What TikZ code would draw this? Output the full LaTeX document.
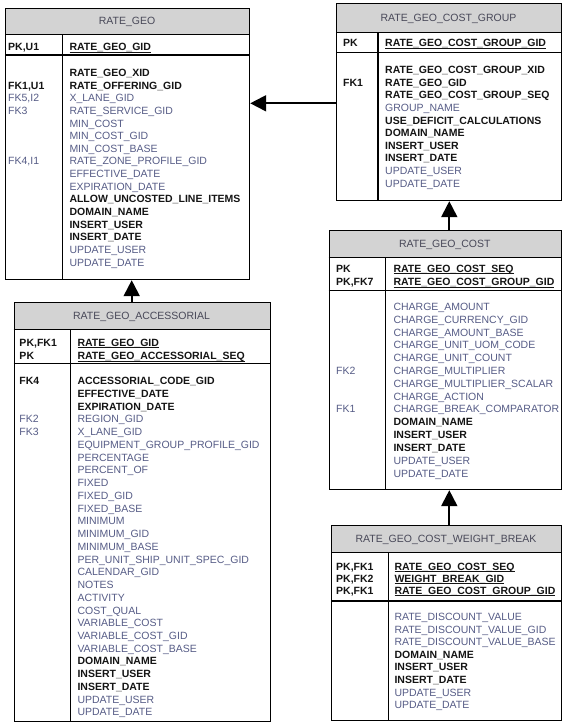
\documentclass[tikz,border=0pt]{standalone}
\usepackage{fontspec}
\setmainfont{Liberation Sans}
\usetikzlibrary{arrows.meta}
\definecolor{regc}{RGB}{86,92,134}
\definecolor{blkc}{RGB}{20,20,20}
\definecolor{ttlc}{RGB}{72,72,88}
\definecolor{ttlfill}{RGB}{211,211,211}
\newcommand\regtxt[1]{{\color{regc}#1}}
\newcommand\boldtxt[1]{{\color{blkc}\bfseries #1}}
\newcommand\pktxt[1]{{\color{blkc}\bfseries\setbox0\hbox{#1}\rlap{\rule[-2.4pt]{\wd0}{1.1pt}}\box0}}
\tikzset{
  txt/.style={anchor=base west, inner sep=0pt, font=\fontsize{10.5}{12}\selectfont},
  ttl/.style={anchor=base, inner sep=0pt, font=\fontsize{10.5}{12}\selectfont, text=ttlc},
  tblbox/.style={draw=black, line width=1.2pt, inner sep=0pt, fill=none},
  sepline/.style={draw=black, line width=1.2pt},
  conn/.style={line width=2pt, -{Triangle[length=16pt,width=16pt]}},
}
\newcommand\tabrows[5]{\foreach \t [count=\i from 0] in {#5} {\node[txt] (#1-\i) at ({#2},{#3+\i*#4}) {\t};}}
\newcommand\tablebox[8]{%
  \fill[ttlfill] (#2,#3) rectangle (#4,#6);
  \draw[sepline] (#2,#6) -- (#4,#6);
  \draw[sepline] (#2,#7) -- (#4,#7);
  \draw[sepline] (#8,#6) -- (#8,#5);
  \node[tblbox, anchor=north west, minimum width={#4-#2}, minimum height={#5-#3}] (#1) at (#2,#3) {};
}
\begin{document}
\begin{tikzpicture}[x=1pt,y=-1pt]
\useasboundingbox (0,0) rectangle (562,725);

% ---------- RATE_GEO ----------
\tablebox{rg}{5}{8}{249}{279}{34.5}{55}{62.5}
\node[ttl] (rg-t) at (127,25) {RATE\_GEO};
\node[txt] (rg-k0) at (8,50.7) {\boldtxt{PK,U1}};
\node[txt] (rg-p0) at (69.3,50.7) {\pktxt{RATE\_GEO\_GID}};
\tabrows{rga}{69.3}{76.4}{12.65}{
 \boldtxt{RATE\_GEO\_XID},
 \boldtxt{RATE\_OFFERING\_GID},
 \regtxt{X\_LANE\_GID},
 \regtxt{RATE\_SERVICE\_GID},
 \regtxt{MIN\_COST},
 \regtxt{MIN\_COST\_GID},
 \regtxt{MIN\_COST\_BASE},
 \regtxt{RATE\_ZONE\_PROFILE\_GID},
 \regtxt{EFFECTIVE\_DATE},
 \regtxt{EXPIRATION\_DATE},
 \boldtxt{ALLOW\_UNCOSTED\_LINE\_ITEMS},
 \boldtxt{DOMAIN\_NAME},
 \boldtxt{INSERT\_USER},
 \boldtxt{INSERT\_DATE},
 \regtxt{UPDATE\_USER},
 \regtxt{UPDATE\_DATE}}
\node[txt] (rg-k1) at (8,{76.4+1*12.65}) {\boldtxt{FK1,U1}};
\node[txt] (rg-k2) at (8,{76.4+2*12.65}) {\regtxt{FK5,I2}};
\node[txt] (rg-k3) at (8,{76.4+3*12.65}) {\regtxt{FK3}};
\node[txt] (rg-k4) at (8,{76.4+7*12.65}) {\regtxt{FK4,I1}};

% ---------- RATE_GEO_COST_GROUP ----------
\tablebox{cg}{336}{3}{561}{200}{32.5}{52.5}{378}
\node[ttl] (cg-t) at (448.5,21.5) {RATE\_GEO\_COST\_GROUP};
\node[txt] (cg-k0) at (343,47) {\boldtxt{PK}};
\node[txt] (cg-p0) at (385,47) {\pktxt{RATE\_GEO\_COST\_GROUP\_GID}};
\tabrows{cga}{385}{73.7}{12.6}{
 \boldtxt{RATE\_GEO\_COST\_GROUP\_XID},
 \boldtxt{RATE\_GEO\_GID},
 \boldtxt{RATE\_GEO\_COST\_GROUP\_SEQ},
 \regtxt{GROUP\_NAME},
 \boldtxt{USE\_DEFICIT\_CALCULATIONS},
 \boldtxt{DOMAIN\_NAME},
 \boldtxt{INSERT\_USER},
 \boldtxt{INSERT\_DATE},
 \regtxt{UPDATE\_USER},
 \regtxt{UPDATE\_DATE}}
\node[txt] (cg-k1) at (343,{73.7+1*12.6}) {\boldtxt{FK1}};

% ---------- RATE_GEO_COST ----------
\tablebox{co}{328.5}{230}{561}{489}{257.5}{290.5}{385.5}
\node[ttl] (co-t) at (444.75,247.5) {RATE\_GEO\_COST};
\node[txt] (co-k0) at (336,272) {\boldtxt{PK}};
\node[txt] (co-k1) at (336,285.5) {\boldtxt{PK,FK7}};
\node[txt] (co-p0) at (393.3,272) {\pktxt{RATE\_GEO\_COST\_SEQ}};
\node[txt] (co-p1) at (393.3,285.5) {\pktxt{RATE\_GEO\_COST\_GROUP\_GID}};
\tabrows{coa}{393.3}{310.4}{12.82}{
 \regtxt{CHARGE\_AMOUNT},
 \regtxt{CHARGE\_CURRENCY\_GID},
 \regtxt{CHARGE\_AMOUNT\_BASE},
 \regtxt{CHARGE\_UNIT\_UOM\_CODE},
 \regtxt{CHARGE\_UNIT\_COUNT},
 \regtxt{CHARGE\_MULTIPLIER},
 \regtxt{CHARGE\_MULTIPLIER\_SCALAR},
 \regtxt{CHARGE\_ACTION},
 \regtxt{CHARGE\_BREAK\_COMPARATOR},
 \boldtxt{DOMAIN\_NAME},
 \boldtxt{INSERT\_USER},
 \boldtxt{INSERT\_DATE},
 \regtxt{UPDATE\_USER},
 \regtxt{UPDATE\_DATE}}
\node[txt] (co-k2) at (336,{310.4+5*12.82}) {\regtxt{FK2}};
\node[txt] (co-k3) at (336,{310.4+8*12.82}) {\regtxt{FK1}};

% ---------- RATE_GEO_COST_WEIGHT_BREAK ----------
\tablebox{wb}{331}{525}{561}{720}{552.5}{601}{388.5}
\node[ttl] (wb-t) at (446,542.5) {RATE\_GEO\_COST\_WEIGHT\_BREAK};
\node[txt] (wb-k0) at (336,570) {\boldtxt{PK,FK1}};
\node[txt] (wb-k1) at (336,582) {\boldtxt{PK,FK2}};
\node[txt] (wb-k2) at (336,594) {\boldtxt{PK,FK1}};
\node[txt] (wb-p0) at (394.3,570) {\pktxt{RATE\_GEO\_COST\_SEQ}};
\node[txt] (wb-p1) at (394.3,582) {\pktxt{WEIGHT\_BREAK\_GID}};
\node[txt] (wb-p2) at (394.3,594) {\pktxt{RATE\_GEO\_COST\_GROUP\_GID}};
\tabrows{wba}{394.3}{620.4}{12.6}{
 \regtxt{RATE\_DISCOUNT\_VALUE},
 \regtxt{RATE\_DISCOUNT\_VALUE\_GID},
 \regtxt{RATE\_DISCOUNT\_VALUE\_BASE},
 \boldtxt{DOMAIN\_NAME},
 \boldtxt{INSERT\_USER},
 \boldtxt{INSERT\_DATE},
 \regtxt{UPDATE\_USER},
 \regtxt{UPDATE\_DATE}}

% ---------- RATE_GEO_ACCESSORIAL ----------
\tablebox{ac}{13.5}{302}{269.5}{721}{329.5}{363.5}{70.5}
\node[ttl] (ac-t) at (141.5,319.5) {RATE\_GEO\_ACCESSORIAL};
\node[txt] (ac-k0) at (19.3,346) {\boldtxt{PK,FK1}};
\node[txt] (ac-k1) at (19.3,359.4) {\boldtxt{PK}};
\node[txt] (ac-p0) at (77.3,346) {\pktxt{RATE\_GEO\_GID}};
\node[txt] (ac-p1) at (77.3,359.4) {\pktxt{RATE\_GEO\_ACCESSORIAL\_SEQ}};
\tabrows{aca}{77.3}{384.7}{12.74}{
 \boldtxt{ACCESSORIAL\_CODE\_GID},
 \boldtxt{EFFECTIVE\_DATE},
 \boldtxt{EXPIRATION\_DATE},
 \regtxt{REGION\_GID},
 \regtxt{X\_LANE\_GID},
 \regtxt{EQUIPMENT\_GROUP\_PROFILE\_GID},
 \regtxt{PERCENTAGE},
 \regtxt{PERCENT\_OF},
 \regtxt{FIXED},
 \regtxt{FIXED\_GID},
 \regtxt{FIXED\_BASE},
 \regtxt{MINIMUM},
 \regtxt{MINIMUM\_GID},
 \regtxt{MINIMUM\_BASE},
 \regtxt{PER\_UNIT\_SHIP\_UNIT\_SPEC\_GID},
 \regtxt{CALENDAR\_GID},
 \regtxt{NOTES},
 \regtxt{ACTIVITY},
 \regtxt{COST\_QUAL},
 \regtxt{VARIABLE\_COST},
 \regtxt{VARIABLE\_COST\_GID},
 \regtxt{VARIABLE\_COST\_BASE},
 \boldtxt{DOMAIN\_NAME},
 \boldtxt{INSERT\_USER},
 \boldtxt{INSERT\_DATE},
 \regtxt{UPDATE\_USER},
 \regtxt{UPDATE\_DATE}}
\node[txt] (ac-k2) at (19.3,384.7) {\boldtxt{FK4}};
\node[txt] (ac-k3) at (19.3,{384.7+3*12.74}) {\regtxt{FK2}};
\node[txt] (ac-k4) at (19.3,{384.7+4*12.74}) {\regtxt{FK3}};

% ---------- connectors ----------
\coordinate (ay) at (0,103.3);
\coordinate (ax1) at (131.7,0);
\coordinate (ax2) at (449.3,0);
\draw[conn] (cg.west |- ay) -- (rg.east |- ay);
\draw[conn] (ac.north -| ax1) -- (rg.south -| ax1);
\draw[conn] (co.north -| ax2) -- (cg.south -| ax2);
\draw[conn] (wb.north -| ax2) -- (co.south -| ax2);
\end{tikzpicture}
\end{document}
